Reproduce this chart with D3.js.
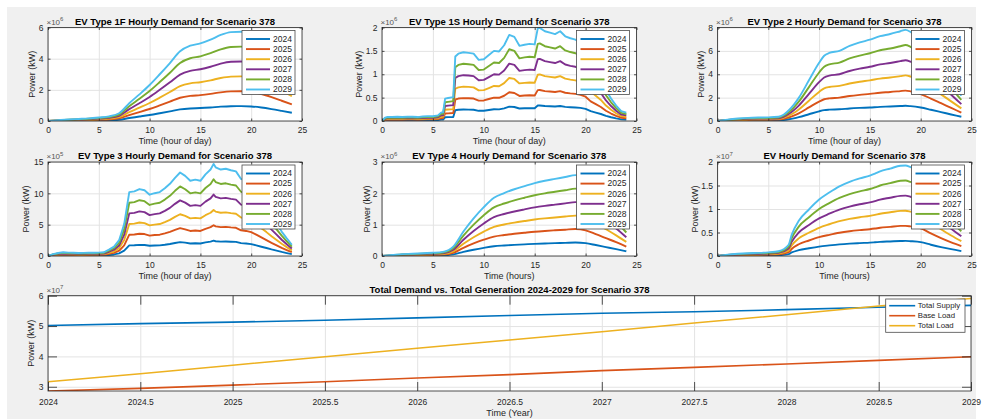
<!DOCTYPE html>
<html><head><meta charset="utf-8">
<script src="https://cdn.jsdelivr.net/npm/d3@7"></script>
<style>
body{margin:0;background:#fff;}
svg{display:block;font-family:"Liberation Sans",Arial,Helvetica,sans-serif;}
</style>
</head><body>
<svg id="c" width="982" height="419"></svg>
<script>
// ---------------- DATA ----------------
const years = ["2024","2025","2026","2027","2028","2029"];
// growth multiplier of each year relative to 2024 (read from the peaks)
const yearFactor = [1,2,3,4,5,6];
const colors = ["#0072BD","#D95319","#EDB120","#7E2F8E","#77AC30","#4DBEEE"];

// EV Type 1F, 2024 profile (x10^6 kW)
const hours1F = [0,1,2,3,4,5,6,7,8,9,10,11,12,13,14,15,16,17,18,19,20,21,22,23,24];
const type1F2024 = [0,0.008,0.016,0.022,0.028,0.038,0.05,0.083,0.19,0.285,0.385,0.5,0.62,0.745,0.805,0.83,0.87,0.92,0.95,0.955,0.935,0.865,0.765,0.65,0.53];

// EV Type 1S, 2024 profile (x10^6 kW)
const hours1S = [0,0.3,0.5,1,1.5,2,2.5,3,3.5,4,4.5,5,5.5,5.8,6.0,6.2,6.5,7.0,7.2,7.5,
  8,8.5,9,9.5,10,10.5,11,11.5,12,12.5,13,13.5,14,14.5,15,15.3,15.5,16,16.5,17,17.5,18,18.5,19,19.5,20,20.5,21,21.5,22,22.5,23,23.5,24];
const type1S2024 = [0,0.012,0.014,0.014,0.015,0.014,0.015,0.015,0.014,0.016,0.017,0.017,0.02,0.03,0.031,0.08,0.082,0.085,0.23,0.24,
  0.245,0.243,0.24,0.218,0.22,0.235,0.25,0.248,0.27,0.307,0.3,0.268,0.272,0.275,0.273,0.33,0.332,0.32,0.315,0.31,0.32,0.302,0.295,0.29,0.28,0.26,0.21,0.18,0.15,0.11,0.08,0.055,0.035,0.03];

// EV Type 2, 2024 profile (x10^6 kW)
const hours2 = [0,1,2,3,4,5,6,6.5,7,7.5,8,9,10,10.5,11,12,13,14,15,16,17,18,18.5,19,20,21,22,23,24];
const type22024 = [0,0.02,0.035,0.045,0.05,0.052,0.06,0.09,0.15,0.23,0.33,0.58,0.83,0.93,0.97,1.0,1.07,1.12,1.16,1.21,1.24,1.28,1.3,1.27,1.15,0.96,0.76,0.56,0.36];

// EV Type 3, 2024 profile (x10^5 kW)
const hours3 = [0,0.5,1,1.5,2,2.5,3,3.5,4,4.5,5,5.5,6,6.5,7,7.5,8,8.5,9,9.5,10,10.5,11,11.5,12,12.5,13,13.5,14,14.5,15,15.5,16,16.3,
  16.5,17,17.5,18,18.5,19,19.5,20,20.5,21,21.5,22,22.5,23,23.5,24];
const type32024 = [0,0.05,0.08,0.1,0.09,0.085,0.08,0.082,0.085,0.088,0.09,0.1,0.17,0.25,0.42,0.85,1.7,1.72,1.78,1.75,1.63,1.67,1.7,1.8,1.92,2.08,2.22,2.13,2.0,2.03,2.0,2.17,2.3,2.45,
  2.36,2.3,2.32,2.28,2.25,2.05,2.0,1.9,1.7,1.48,1.27,1.05,0.85,0.65,0.47,0.3];

// EV Type 4, 2024 profile (x10^6 kW)
const hours4 = [0,1,2,3,4,5,6,7,8,9,10,11,12,13,14,15,16,17,18,19,20,21,22,23,24];
const type42024 = [0,0.005,0.01,0.012,0.015,0.017,0.022,0.05,0.13,0.2,0.26,0.31,0.335,0.355,0.372,0.388,0.4,0.41,0.42,0.43,0.41,0.35,0.285,0.22,0.15];

// EV total, 2024 profile (x10^7 kW)
const hoursT = [0,1,2,3,4,5,6,7,7.3,8,9,10,11,12,13,14,15,15.5,16,17,18,18.5,19,20,21,22,23,24];
const typeT2024 = [0,0.005,0.008,0.01,0.011,0.013,0.017,0.04,0.075,0.125,0.165,0.2,0.225,0.247,0.263,0.275,0.285,0.292,0.3,0.31,0.32,0.321,0.315,0.295,0.24,0.19,0.145,0.105];

// Bottom panel (x10^7 kW)
const timeYears = [2024,2024.5,2025,2025.5,2026,2026.5,2027,2027.5,2028,2028.5,2029];
const totalSupply = [5.02,5.08,5.13,5.19,5.27,5.35,5.42,5.47,5.54,5.62,5.68];
const baseLoad = [2.86,2.945,3.055,3.165,3.29,3.40,3.53,3.64,3.75,3.87,3.99];
const totalLoad = [3.165,3.43,3.71,3.99,4.27,4.54,4.81,5.10,5.37,5.66,5.91];
const bottomSeries = ["Total Supply","Base Load","Total Load"];

const hourTicks = [0,5,10,15,20,25];
const yearTicks = [2024,2024.5,2025,2025.5,2026,2026.5,2027,2027.5,2028,2028.5,2029];

// ---------------- DRAWING ----------------
const svg = d3.select("#c");
const TXT = "#262626";
svg.append("rect").attr("x",7).attr("y",7).attr("width",969).attr("height",412).attr("fill","#f0f0f0");

let clipId = 0;
function drawAxes(cfg){
  const g = svg.append("g");
  const x = d3.scaleLinear().domain(cfg.xDomain).range([cfg.left, cfg.right]);
  const y = d3.scaleLinear().domain(cfg.yDomain).range([cfg.bottom, cfg.top]);
  const w = cfg.right-cfg.left, h = cfg.bottom-cfg.top;
  g.append("rect").attr("x",cfg.left).attr("y",cfg.top).attr("width",w).attr("height",h).attr("fill","#fff");
  // grid
  const gx = g.append("g").attr("transform",`translate(0,${cfg.bottom})`)
    .call(d3.axisBottom(x).tickValues(cfg.xTicks).tickSize(-h).tickFormat(""));
  const gy = g.append("g").attr("transform",`translate(${cfg.left},0)`)
    .call(d3.axisLeft(y).tickValues(cfg.yTicks).tickSize(-w).tickFormat(""));
  [gx,gy].forEach(a=>{a.select(".domain").remove(); a.selectAll("line").attr("stroke","#e3e3e3").attr("stroke-width",1);});
  // data
  const cid = "clip"+(clipId++);
  g.append("clipPath").attr("id",cid).append("rect").attr("x",cfg.left).attr("y",cfg.top).attr("width",w).attr("height",h);
  const dg = g.append("g").attr("clip-path",`url(#${cid})`);
  const line = d3.line().x(d=>x(d[0])).y(d=>y(d[1])).curve(cfg.curve||d3.curveLinear);
  cfg.series.forEach(s=>{
    dg.append("path").datum(s.points).attr("d",line).attr("fill","none")
      .attr("stroke",s.color).attr("stroke-width",cfg.lw).attr("stroke-linejoin","round");
  });
  // box + ticks
  const tl = cfg.tickLen;
  const styleAx = a=>{a.select(".domain").remove(); a.selectAll("line").attr("stroke",TXT).attr("stroke-width",0.8);
    a.selectAll("text").attr("fill",TXT).style("font-size","8.5px").style("font-family","Liberation Sans, Arial, sans-serif");};
  const ab = g.append("g").attr("transform",`translate(0,${cfg.bottom})`)
    .call(d3.axisBottom(x).tickValues(cfg.xTicks).tickSize(-tl).tickPadding(cfg.xPad||6).tickFormat(cfg.xFmt||(d=>d)));
  styleAx(ab);
  const at = g.append("g").attr("transform",`translate(0,${cfg.top})`)
    .call(d3.axisTop(x).tickValues(cfg.xTicks).tickSize(-tl).tickFormat(""));
  styleAx(at);
  const al = g.append("g").attr("transform",`translate(${cfg.left},0)`)
    .call(d3.axisLeft(y).tickValues(cfg.yTicks).tickSize(-tl).tickPadding(4.5).tickFormat(cfg.yFmt||(d=>d)));
  styleAx(al);
  const ar = g.append("g").attr("transform",`translate(${cfg.right},0)`)
    .call(d3.axisRight(y).tickValues(cfg.yTicks).tickSize(-tl).tickFormat(""));
  styleAx(ar);
  g.append("rect").attr("x",cfg.left).attr("y",cfg.top).attr("width",w).attr("height",h)
    .attr("fill","none").attr("stroke",TXT).attr("stroke-width",0.8);
  // exponent
  const ex = g.append("text").attr("x",cfg.left-1.5).attr("y",cfg.top-3).attr("fill","#555").style("font-size","8px");
  ex.append("tspan").text("×10");
  ex.append("tspan").attr("dy",-3.5).style("font-size","6px").text(cfg.expo);
  // title
  g.append("text").attr("x",(cfg.left+cfg.right)/2).attr("y",cfg.top-3).attr("text-anchor","middle")
    .attr("fill","#000").style("font-size","9.5px").style("font-weight","bold").text(cfg.title);
  // labels
  g.append("text").attr("x",(cfg.left+cfg.right)/2).attr("y",cfg.bottom+cfg.xLabOff).attr("text-anchor","middle")
    .attr("fill",TXT).style("font-size","9px").text(cfg.xLabel);
  g.append("text").attr("transform",`translate(${cfg.left-cfg.yLabOff},${(cfg.top+cfg.bottom)/2}) rotate(-90)`)
    .attr("text-anchor","middle").attr("fill",TXT).style("font-size","9px").text("Power (kW)");
  // legend
  const L = cfg.legend;
  const lg = g.append("g");
  lg.append("rect").attr("x",L.x).attr("y",L.y).attr("width",L.w).attr("height",L.h)
    .attr("fill","#fff").attr("stroke","#4a4a4a").attr("stroke-width",0.8);
  cfg.series.forEach((s,i)=>{
    const cy = L.y + L.first + i*L.step;
    lg.append("line").attr("x1",L.x+L.lx0).attr("x2",L.x+L.lx1).attr("y1",cy).attr("y2",cy)
      .attr("stroke",s.color).attr("stroke-width",cfg.lw);
    lg.append("text").attr("x",L.x+L.tx).attr("y",cy).attr("dy","0.33em").attr("fill",TXT)
      .style("font-size",L.fs||"8.5px").text(s.name);
  });
}

function yearSeries(hours, base){
  return years.map((yr,i)=>({name:yr, color:colors[i],
    points: hours.map((h,j)=>[h, base[j]*yearFactor[i]])}));
}

const smallLegend = (right, top)=>({x:right-60, y:top+3, w:53, h:64, first:8.5, step:10.1, lx0:4, lx1:28, tx:31});
const cols = [[48,302],[382,636.5],[717.5,971.5]];
const rows = [[27.5,121],[162,256]];

const panels = [
  {title:"EV Type 1F Hourly Demand for Scenario 378", hours:hours1F, base:type1F2024, yMax:6, yTicks:[0,2,4,6], expo:"6", xLabel:"Time (hour of day)", yLabOff:13.5, curve:d3.curveMonotoneX},
  {title:"EV Type 1S Hourly Demand for Scenario 378", hours:hours1S, base:type1S2024, yMax:2, yTicks:[0,0.5,1,1.5,2], expo:"6", xLabel:"Time (hour of day)", yLabOff:20, curve:d3.curveLinear},
  {title:"EV Type 2 Hourly Demand for Scenario 378", hours:hours2, base:type22024, yMax:8, yTicks:[0,2,4,6,8], expo:"6", xLabel:"Time (hour of day)", yLabOff:13.5, curve:d3.curveMonotoneX},
  {title:"EV Type 3 Hourly Demand for Scenario 378", hours:hours3, base:type32024, yMax:15, yTicks:[0,5,10,15], expo:"5", xLabel:"Time (hour of day)", yLabOff:19, curve:d3.curveLinear},
  {title:"EV Type 4 Hourly Demand for Scenario 378", hours:hours4, base:type42024, yMax:3, yTicks:[0,1,2,3], expo:"6", xLabel:"Time (hours)", yLabOff:12.5, curve:d3.curveMonotoneX},
  {title:"EV Hourly Demand for Scenario 378", hours:hoursT, base:typeT2024, yMax:2, yTicks:[0,0.5,1,1.5,2], expo:"7", xLabel:"Time (hours)", yLabOff:20, curve:d3.curveMonotoneX}
];

panels.forEach((p,i)=>{
  const c = cols[i%3], r = rows[Math.floor(i/3)];
  drawAxes({left:c[0], right:c[1], top:r[0], bottom:r[1],
    xDomain:[0,25], yDomain:[0,p.yMax], xTicks:hourTicks, yTicks:p.yTicks,
    tickLen:2.5, xPad:6, lw:1.9, curve:p.curve,
    series:yearSeries(p.hours,p.base), title:p.title, expo:p.expo,
    xLabel:p.xLabel, xLabOff:23, yLabOff:p.yLabOff,
    legend:smallLegend(c[1], r[0])});
});

// bottom panel
const bottomVals = [totalSupply, baseLoad, totalLoad];
drawAxes({left:48, right:971, top:295.7, bottom:391,
  xDomain:[2024,2029], yDomain:[2.86,6], xTicks:yearTicks, yTicks:[3,4,5,6],
  tickLen:9, xPad:7.5, lw:1.6, curve:d3.curveLinear,
  series:bottomSeries.map((n,i)=>({name:n, color:colors[i], points:timeYears.map((t,j)=>[t,bottomVals[i][j]])})),
  title:"Total Demand vs. Total Generation 2024-2029 for Scenario 378", expo:"7",
  xLabel:"Time (Year)", xLabOff:25, yLabOff:14,
  legend:{x:885.7, y:299, w:79.3, h:33.3, first:6.7, step:10, lx0:3.5, lx1:29.5, tx:32, fs:"7.8px"}
});
</script>
</body></html>
